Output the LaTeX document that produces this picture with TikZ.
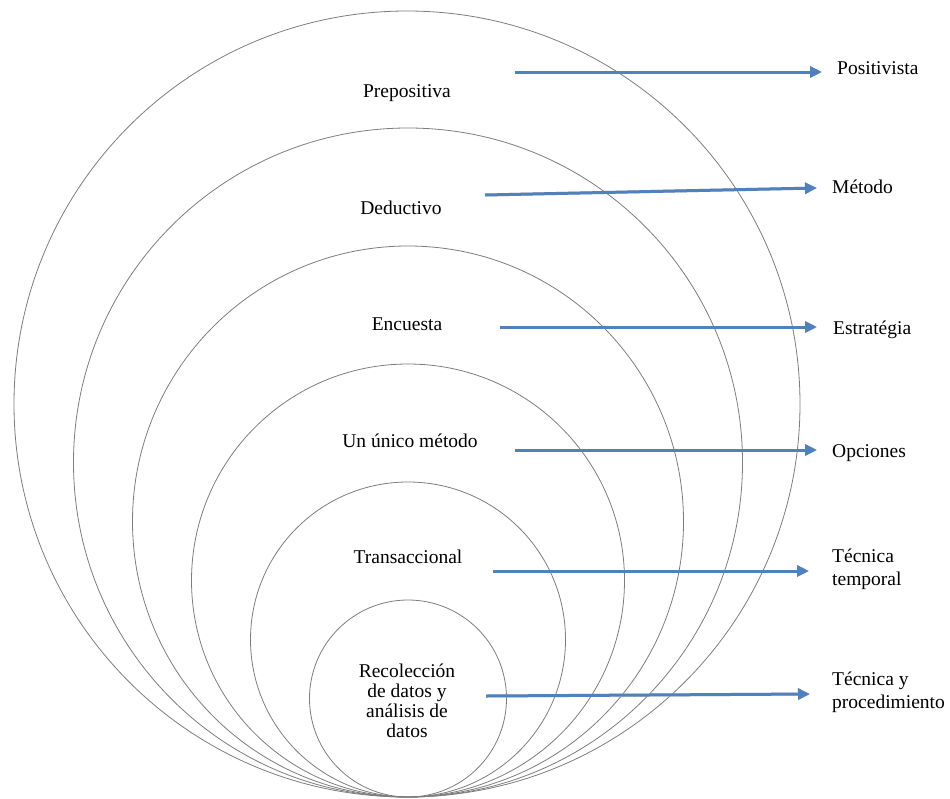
\documentclass[tikz,border=0pt]{standalone}
\usepackage{fontspec}
\setmainfont{Liberation Serif}
\usetikzlibrary{arrows.meta}
\definecolor{ringgray}{RGB}{125,125,125}
\definecolor{arrowblue}{RGB}{79,129,189}
\definecolor{shadegray}{RGB}{200,200,200}
\begin{document}
\begin{tikzpicture}[x=1pt,y=-1pt,
  ring/.style={circle, draw=ringgray, line width=0.8pt, inner sep=0pt, minimum size=#1},
  ringtext/.style={anchor=base, align=center, inner sep=0pt, font=\fontsize{19.5}{20}\selectfont},
  sidetext/.style={anchor=base west, align=left, inner sep=0pt, font=\fontsize{19.5}{22.5}\selectfont},
  pointer/.style={draw=arrowblue, line width=3pt, -{Triangle[length=12pt,width=11pt]}},
  pointershade/.style={draw=shadegray, line width=3pt, -{Triangle[length=12pt,width=11pt]}}
]
\useasboundingbox (0,0) rectangle (950,798);

% nested circles, all touching at the bottom
\node[ring=786pt] (c1) at (407,404) {};
\node[ring=669pt] (c2) at (408,462.5) {};
\node[ring=551pt] (c3) at (408,521.5) {};
\node[ring=433pt] (c4) at (408,580.5) {};
\node[ring=315pt] (c5) at (408,639.5) {};
\node[ring=197pt] (c6) at (408,698.5) {};

% circle labels (base of a multi-line node is its last line)
\node[ringtext] (t1) at (407,97) {Prepositiva};
\node[ringtext] (t2) at (401,214) {Deductivo};
\node[ringtext] (t3) at (407,330) {Encuesta};
\node[ringtext] (t4) at (410,447) {Un único método};
\node[ringtext] (t5) at (408,563) {Transaccional};
\node[ringtext] (t6) at (407,737) {Recolección\\de datos y\\análisis de\\datos};

% side labels
\node[sidetext] (s1) at (837,74) {Positivista};
\node[sidetext] (s2) at (832,193) {Método};
\node[sidetext] (s3) at (833,334) {Estratégia};
\node[sidetext] (s4) at (832,457) {Opciones};
\node[sidetext] (s5) at (832,585) {Técnica\\temporal};
\node[sidetext] (s6) at (832,708) {Técnica y\\procedimiento};

% arrow end points
\coordinate (a1) at (515,72);  \coordinate (b1) at (822,72);
\coordinate (a2) at (485,195); \coordinate (b2) at (817,188);
\coordinate (a3) at (500,327); \coordinate (b3) at (817,327);
\coordinate (a4) at (515,450); \coordinate (b4) at (817,450);
\coordinate (a5) at (493,571); \coordinate (b5) at (809,571);
\coordinate (a6) at (486,696); \coordinate (b6) at (810,694);

% soft shadow under the arrows
\begin{scope}[shift={(1,2)}]
  \foreach \i in {1,...,6} \draw[pointershade] (a\i) -- (b\i);
\end{scope}
\foreach \i in {1,...,6} \draw[pointer] (a\i) -- (b\i);
\end{tikzpicture}
\end{document}
